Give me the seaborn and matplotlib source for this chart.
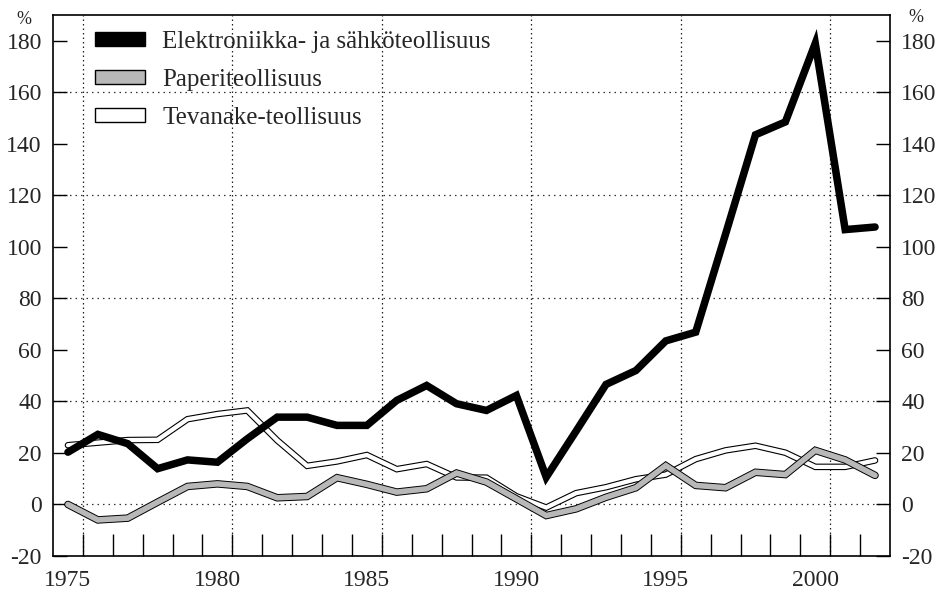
import matplotlib
matplotlib.use("Agg")
import matplotlib.pyplot as plt
from matplotlib.patches import Patch
import numpy as np
import pandas as pd
import seaborn as sns

# vuodet ja sarjat (%)
years = list(range(1975, 2003))
elektroniikka = [20.3, 27.2, 23.6, 13.9, 17.3, 16.4, 25.5, 33.9, 33.9, 30.7,
                 30.7, 40.4, 46.2, 39.1, 36.5, 42.3, 10.6, 28.5, 46.6, 52.0,
                 63.5, 66.9, 105.0, 143.5, 148.5, 179.0, 106.7, 107.7]
paperi = [0.0, -6.0, -5.3, 0.9, 7.0, 8.0, 7.0, 2.6, 3.1, 10.4,
          7.8, 4.8, 6.1, 12.2, 8.7, 2.2, -4.3, -1.7, 2.8, 6.5,
          15.1, 7.4, 6.5, 12.5, 11.6, 21.0, 17.3, 11.3]
tevanake = [23.0, 24.0, 25.0, 25.1, 33.1, 35.1, 36.5, 24.9, 15.0, 16.7,
            19.2, 13.7, 15.7, 10.5, 10.4, 3.2, -1.2, 4.4, 6.7, 9.8,
            11.6, 17.6, 21.0, 22.8, 20.1, 14.6, 14.6, 17.1]
labels = ["Elektroniikka- ja sähköteollisuus", "Paperiteollisuus", "Tevanake-teollisuus"]

y_ticks = list(range(-20, 181, 20))
y_grid = [0, 40, 80, 120, 160]
x_labels = [1975, 1980, 1985, 1990, 1995, 2000]


def main():
    sns.set_style("white")
    plt.rcParams['font.family'] = ['Liberation Serif', 'DejaVu Serif']

    df = pd.DataFrame({"vuosi": years, "elek": elektroniikka,
                       "paperi": paperi, "teva": tevanake})

    fig = plt.figure(figsize=(9.39, 5.92), dpi=100)
    ax = fig.add_axes([53 / 939, 36 / 592, 837 / 939, 541 / 592])

    # ruudukko
    for v in y_grid:
        ax.axhline(v, color="#333333", lw=0.9, ls=(0, (1.2, 3.2)), zorder=0)
    for v in x_labels:
        ax.axvline(v + 0.5, color="#222222", lw=0.9, ls=(0, (1.2, 2.4)), zorder=0)

    # tevanake: valkoinen viiva mustalla reunalla
    sns.lineplot(data=df, x="vuosi", y="teva", ax=ax, color="black", lw=4.7,
                 solid_joinstyle="miter", zorder=3)
    sns.lineplot(data=df, x="vuosi", y="teva", ax=ax, color="white", lw=3.1,
                 solid_joinstyle="miter", zorder=3)
    # paperi: harmaa viiva mustalla reunalla
    sns.lineplot(data=df, x="vuosi", y="paperi", ax=ax, color="black", lw=5.4,
                 solid_joinstyle="miter", zorder=4)
    sns.lineplot(data=df, x="vuosi", y="paperi", ax=ax, color="#b8b8b8", lw=4.0,
                 solid_joinstyle="miter", zorder=4)
    # elektroniikka
    sns.lineplot(data=df, x="vuosi", y="elek", ax=ax, color="black", lw=5.4,
                 solid_joinstyle="miter", zorder=5)

    ax.set_xlim(1974.5, 2002.5)
    ax.set_ylim(-20, 190)
    ax.set_xlabel("")
    ax.set_ylabel("")

    ax.set_xticks(x_labels)
    ax.set_xticklabels([str(v) for v in x_labels])
    ax.set_xticks(np.arange(1975.5, 2002, 1.0), minor=True)
    ax.set_yticks(y_ticks)
    ax.set_yticklabels([str(v) for v in y_ticks])

    ax.tick_params(axis="x", which="major", length=0, pad=10, labelsize=17)
    ax.tick_params(axis="x", which="minor", direction="in", length=16, width=1.0,
                   bottom=True, top=False, color="black")
    ax.tick_params(axis="y", which="major", direction="in", length=10, width=1.0,
                   left=True, right=True, labelleft=True, labelright=True,
                   pad=8, labelsize=17, color="black")

    for s in ax.spines.values():
        s.set_color("black")
        s.set_linewidth(1.2)

    fig.text(24 / 939, 1 - 19 / 592, "%", ha="center", va="center", fontsize=13)
    fig.text(916 / 939, 1 - 18 / 592, "%", ha="center", va="center", fontsize=13)

    handles = [
        Patch(facecolor="black", edgecolor="black", lw=1.0),
        Patch(facecolor="#b8b8b8", edgecolor="black", lw=1.0),
        Patch(facecolor="white", edgecolor="black", lw=1.0),
    ]
    ax.legend(handles=handles, labels=labels, loc="upper left",
              bbox_to_anchor=(42 / 837, 1 - 16 / 541), frameon=False,
              borderpad=0, borderaxespad=0, fontsize=18,
              handlelength=2.0, handleheight=0.48, handletextpad=0.7,
              labelspacing=0.64)

    fig.savefig("out.png", dpi=100)


if __name__ == "__main__":
    main()
